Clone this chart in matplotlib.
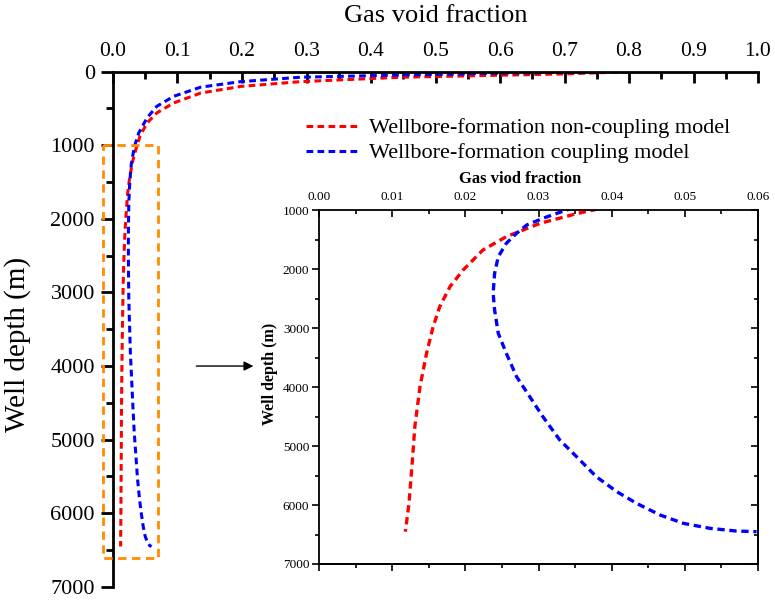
import matplotlib.pyplot as plt
from matplotlib.patches import Rectangle
from matplotlib.ticker import MultipleLocator

plt.rcParams['font.family'] = ['Liberation Serif', 'DejaVu Serif']

# Gas void fraction vs. well depth
depth_noncoupling = [0, 30, 75, 135, 200, 290, 425, 560, 695, 870, 1000, 1056, 1226,
                     1452, 1678, 2017, 2300, 2638, 2977, 3429, 3994, 4672, 5350, 5972, 6452]
frac_noncoupling = [0.80, 0.70, 0.447, 0.291, 0.198, 0.136, 0.094, 0.068, 0.053, 0.042,
                    0.0375, 0.0354, 0.0302, 0.0256, 0.0224, 0.0197, 0.0179, 0.0165,
                    0.0156, 0.0147, 0.0138, 0.0131, 0.0127, 0.0123, 0.0118]

depth_coupling = [0, 20, 45, 75, 135, 210, 335, 470, 625, 830, 1000, 1141, 1254, 1395,
                  1565, 1791, 2073, 2412, 2695, 3090, 3429, 3825, 4164, 4503, 4898,
                  5181, 5520, 5774, 5972, 6169, 6311, 6395, 6441, 6452]
frac_coupling = [0.75, 0.60, 0.447, 0.291, 0.198, 0.136, 0.094, 0.068, 0.053, 0.040,
                 0.0338, 0.0306, 0.0284, 0.0270, 0.0256, 0.0245, 0.0240, 0.0238, 0.0240,
                 0.0245, 0.0256, 0.0270, 0.0288, 0.0306, 0.0329, 0.0352, 0.0379, 0.0407,
                 0.0434, 0.0466, 0.0498, 0.0534, 0.0570, 0.0598]

label_noncoupling = 'Wellbore-formation non-coupling model'
label_coupling = 'Wellbore-formation coupling model'

# zoom box drawn on the main plot and the arrow pointing at the inset
box_x = (-0.016, 0.070)
box_depth = (1000, 6610)
arrow_depth = 4000
arrow_x = (0.125, 0.222)

RED = '#ff0000'
BLUE = '#0000ff'
ORANGE = '#ff8c00'
DASH = (0, (2.2, 1.4))

fig = plt.figure(figsize=(7.75, 6.0), dpi=100)

# ---- main axes ----
ax = fig.add_axes([0.1458, 0.022, 0.8323, 0.8585])
ax.plot(frac_noncoupling, depth_noncoupling, color=RED, lw=2.2, ls=DASH, label=label_noncoupling)
ax.plot(frac_coupling, depth_coupling, color=BLUE, lw=2.2, ls=DASH, label=label_coupling)
ax.set_xlim(0, 1.0)
ax.set_ylim(7000, 0)
ax.spines['right'].set_visible(False)
ax.spines['bottom'].set_visible(False)
for s in ('top', 'left'):
    ax.spines[s].set_linewidth(2)
ax.xaxis.tick_top()
ax.xaxis.set_label_position('top')
ax.xaxis.set_major_locator(MultipleLocator(0.1))
ax.xaxis.set_minor_locator(MultipleLocator(0.05))
ax.yaxis.set_major_locator(MultipleLocator(1000))
ax.yaxis.set_minor_locator(MultipleLocator(500))
ax.tick_params(axis='x', which='both', direction='in', width=2, labelsize=15.5, pad=8)
ax.tick_params(axis='x', which='major', length=8)
ax.tick_params(axis='x', which='minor', length=5)
ax.tick_params(axis='y', which='both', direction='out', width=2, labelsize=16, pad=4)
ax.tick_params(axis='y', which='major', length=9)
ax.tick_params(axis='y', which='minor', length=5)
ax.xaxis.set_major_formatter(lambda v, p: f'{v:.1f}')
ax.set_xlabel('Gas void fraction', fontsize=19, labelpad=14)
ax.set_ylabel('Well depth (m)', fontsize=21)
ax.yaxis.set_label_coords(-0.127, 0.47)

ax.add_patch(Rectangle((box_x[0], box_depth[0]), box_x[1] - box_x[0],
                       box_depth[1] - box_depth[0], fill=False, edgecolor=ORANGE,
                       lw=2, ls=(0, (3, 2)), clip_on=False, zorder=3))
ax.annotate('', xy=(arrow_x[1], arrow_depth), xytext=(arrow_x[0], arrow_depth),
            arrowprops=dict(arrowstyle='-|>', color='black', lw=1, mutation_scale=14))

ax.legend(loc='upper left', bbox_to_anchor=(0.381, 0.822), bbox_transform=fig.transFigure,
          frameon=False, fontsize=16, handlelength=2.4, handletextpad=0.4,
          labelspacing=0.2, borderpad=0)

# ---- inset ----
ins = fig.add_axes([0.4116, 0.06, 0.5665, 0.59])
ins.plot(frac_noncoupling, depth_noncoupling, color=RED, lw=2.4, ls=DASH)
ins.plot(frac_coupling, depth_coupling, color=BLUE, lw=2.4, ls=DASH)
ins.set_xlim(0, 0.06)
ins.set_ylim(7000, 1000)
for s in ins.spines.values():
    s.set_linewidth(1.3)
ins.xaxis.tick_top()
ins.xaxis.set_label_position('top')
ins.xaxis.set_major_locator(MultipleLocator(0.01))
ins.xaxis.set_minor_locator(MultipleLocator(0.005))
ins.yaxis.set_major_locator(MultipleLocator(1000))
ins.yaxis.set_minor_locator(MultipleLocator(500))
ins.xaxis.set_major_formatter(lambda v, p: f'{v:.2f}')
ins.tick_params(axis='x', which='both', direction='in', width=1.2, labelsize=9.5, pad=5)
ins.tick_params(axis='x', which='major', length=5)
ins.tick_params(axis='x', which='minor', length=3)
ins.tick_params(axis='y', which='both', direction='out', width=1.2, labelsize=9.5, pad=2)
ins.tick_params(axis='y', which='major', length=5)
ins.tick_params(axis='y', which='minor', length=3)
ins.set_xlabel('Gas viod fraction', fontsize=12, fontweight='bold')
ins.xaxis.set_label_coords(0.458, 1.075)
ins.set_ylabel('Well depth (m)', fontsize=11.5, fontweight='bold')
ins.yaxis.set_label_coords(-0.094, 0.537)

bot = ins.secondary_xaxis('bottom')
bot.xaxis.set_major_locator(MultipleLocator(0.01))
bot.xaxis.set_minor_locator(MultipleLocator(0.005))
bot.tick_params(which='both', direction='out', width=1.2, labelbottom=False)
bot.tick_params(which='major', length=5)
bot.tick_params(which='minor', length=3)
bot.spines['bottom'].set_linewidth(1.3)

rgt = ins.secondary_yaxis('right')
rgt.yaxis.set_major_locator(MultipleLocator(1000))
rgt.yaxis.set_minor_locator(MultipleLocator(500))
rgt.tick_params(which='both', direction='in', width=1.2, labelright=False)
rgt.tick_params(which='major', length=5)
rgt.tick_params(which='minor', length=3)
rgt.spines['right'].set_linewidth(1.3)

fig.savefig('out.png', dpi=100)
